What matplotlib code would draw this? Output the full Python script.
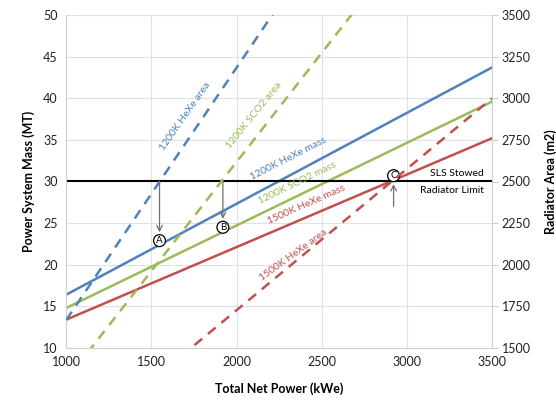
import matplotlib
matplotlib.use("Agg")
import matplotlib.pyplot as plt

plt.rcParams['font.family'] = ['Lato', 'DejaVu Sans']

power = [1000, 3500]
mass_hexe_1200 = [16.4, 43.7]
mass_sco2_1200 = [14.8, 39.6]
mass_hexe_1500 = [13.4, 35.2]
area_hexe_1200 = [1668, 5456]
area_sco2_1200 = [1307, 4582]
area_hexe_1500 = [878, 3000]
limit_mass = 30
pts = {'A': (1548, 22.9), 'B': (1920, 24.5), 'C': (2922, 30.7)}

blue = '#4F81BD'
green = '#9BBB59'
red = '#C0504D'

fig = plt.figure(figsize=(5.56, 4.0), dpi=100)
ax = fig.add_axes([0.119, 0.13, 0.766, 0.8325])
ax2 = ax.twinx()

ax.plot(power, mass_hexe_1200, color=blue, lw=1.8)
ax.plot(power, mass_sco2_1200, color=green, lw=1.8)
ax.plot(power, mass_hexe_1500, color=red, lw=1.8)
ax.plot(power, [limit_mass, limit_mass], color='black', lw=1.5)

ax2.plot(power, area_hexe_1200, color=blue, lw=1.8, ls=(0, (4, 3)))
ax2.plot(power, area_sco2_1200, color=green, lw=1.8, ls=(0, (4, 3)))
ax2.plot(power, area_hexe_1500, color=red, lw=1.8, ls=(0, (4, 3)))

ax.set_xlim(1000, 3500)
ax.set_ylim(10, 50)
ax2.set_ylim(1500, 3500)
ax.set_xticks(range(1000, 3501, 500))
ax.set_yticks(range(10, 51, 5))
ax2.set_yticks(range(1500, 3501, 250))
ax.grid(True, color='#dde1e8', lw=0.8)
ax.set_axisbelow(True)

for a in (ax, ax2):
    for s in a.spines.values():
        s.set_visible(False)
ax.spines['left'].set_visible(True)
ax.spines['left'].set_color('#d0d0d0')
ax.spines['bottom'].set_visible(True)
ax.spines['bottom'].set_color('#d0d0d0')
ax2.spines['right'].set_visible(True)
ax2.spines['right'].set_color('#d0d0d0')

ax.tick_params(axis='both', length=0, labelsize=9, pad=6, colors='#222222')
ax2.tick_params(axis='y', length=4, color='#d0d0d0', labelsize=9, pad=3, labelcolor='#222222')

ax.set_xlabel('Total Net Power (kWe)', fontsize=9, fontweight='bold', labelpad=10)
ax.set_ylabel('Power System Mass (MT)', fontsize=9, fontweight='bold', labelpad=6)
ax2.set_ylabel('Radiator Area (m2)', fontsize=9, fontweight='bold', labelpad=10)

# line labels
lbl = dict(fontsize=7.5, ha='center', va='center', rotation_mode='anchor')
ax.text(1700, 37.8, '1200K HeXe area', color=blue, rotation=55, **lbl)
ax.text(2100, 38.0, '1200K SCO2 area', color=green, rotation=51, **lbl)
ax.text(2303, 32.7, '1200K HeXe mass', color=blue, rotation=27, **lbl)
ax.text(2356, 29.8, '1200K SCO2 mass', color=green, rotation=26, **lbl)
ax.text(2408, 27.2, '1500K HeXe mass', color=red, rotation=24, **lbl)
ax.text(2335, 21.1, '1500K HeXe area', color=red, rotation=36, **lbl)

ax.text(3450, 30.4, 'SLS Stowed', fontsize=7.5, ha='right', va='bottom')
ax.text(3450, 29.5, 'Radiator Limit', fontsize=7.5, ha='right', va='top')

# arrows
arr = dict(arrowstyle='->', color='#707070', lw=0.9, shrinkA=0, shrinkB=6)
ax.annotate('', xy=pts['A'], xytext=(pts['A'][0], limit_mass), arrowprops=arr)
ax.annotate('', xy=pts['B'], xytext=(pts['B'][0], limit_mass), arrowprops=arr)
ax.annotate('', xy=pts['C'], xytext=(pts['C'][0], 27.0), arrowprops=arr)

for k, (x, y) in pts.items():
    ax.text(x, y, k, fontsize=7, ha='center', va='center', zorder=5,
            bbox=dict(boxstyle='circle,pad=0.15', fc='white', ec='black', lw=0.9))

fig.savefig('out.png', dpi=100)
